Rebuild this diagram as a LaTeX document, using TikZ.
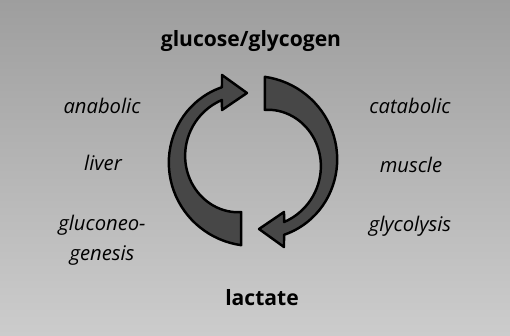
\documentclass[tikz,border=0pt]{standalone}
\usepackage{fontspec}
\setmainfont{Open Sans}
\usepackage{tikz}
\usetikzlibrary{calc}

\begin{document}
\begin{tikzpicture}[x=0.02cm, y=0.02cm,
  metab/.style={font=\fontsize{12}{17}\selectfont\bfseries, inner sep=1pt},
  side/.style={font=\fontsize{11.5}{17}\selectfont\itshape, align=center, inner sep=1pt},
  cyc/.style={fill=black!72, draw=black, line width=1.4pt, line join=round},
]
  \useasboundingbox (0,0) rectangle (510,335);
  \shade[top color=black!38, bottom color=black!20] (0,0) rectangle (510,335);
  \coordinate (hub) at (253,174);
  % two tapered half-circle arrows, the second one turned round
  \foreach \r in {0,180} {
    \begin{scope}[shift={(hub)}, rotate=\r]
      \draw[cyc] plot[domain=262:112.8, samples=40, variable=\a] (\a:{85-5*((262-\a)/150)^3})
        -- (-31,86) -- (-6,68) -- (-31,51)
        -- plot[domain=117:257, samples=40, variable=\a]
           (\a:{85-5*((262-\a)/150)^3-12-22*(1-(262-\a)/150)^2}) -- cycle;
    \end{scope}
  }
  \node[metab] (glc) at (251,294) {glucose/glycogen};
  \node[metab] (lac) at (262,37) {lactate};
  \node[side] (ana) at (102,229) {anabolic};
  \node[side] (liv) at (103,172) {liver};
  \node[side] (gng) at (102,95) {gluconeo-\\genesis};
  \node[side] (cat) at (410,229) {catabolic};
  \node[side] (mus) at (411,170) {muscle};
  \node[side] (gly) at (410,109) {glycolysis};
\end{tikzpicture}
\end{document}
